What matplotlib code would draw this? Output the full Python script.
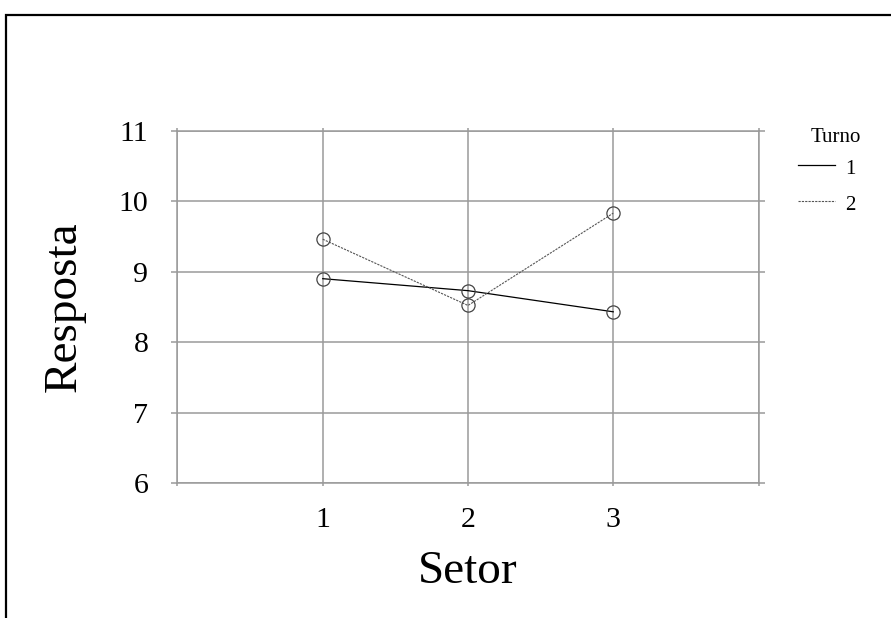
import matplotlib.pyplot as plt
from matplotlib.patches import Rectangle
from matplotlib.lines import Line2D

# --- datos ---
setor = [1, 2, 3]
turno1 = [8.90, 8.73, 8.43]
turno2 = [9.46, 8.52, 9.83]
rotulos_turno = ["1", "2"]

plt.rcParams['font.family'] = ['Liberation Serif', 'DejaVu Serif']

fig = plt.figure(figsize=(8.91, 6.18), dpi=100)
ax = fig.add_axes([0.1992, 0.2184, 0.6521, 0.5701])

cinza = '#9a9a9a'
estilos = [dict(color='black', lw=0.9, ls='-'),
           dict(color='#555555', lw=0.8, ls=(0, (2, 1)))]

for ys, est, rot in zip([turno1, turno2], estilos, rotulos_turno):
    ax.plot(setor, ys, marker='o', ms=9.5, mfc='none', mec='#444444',
            mew=0.9, label=rot, **est)

ax.set_xlim(0, 4)
ax.set_ylim(6, 11)
ax.set_xticks([0, 1, 2, 3, 4])
ax.set_xticklabels(['', '1', '2', '3', ''])
ax.set_yticks([6, 7, 8, 9, 10, 11])

ax.grid(True, color=cinza, lw=1.1)
ax.set_axisbelow(True)
for s in ax.spines.values():
    s.set_color(cinza)
    s.set_linewidth(1.1)

ax.tick_params(axis='y', which='both', left=True, right=True, length=4.5,
               width=1.1, color=cinza, labelsize=21.5, pad=16.5)
ax.tick_params(axis='x', which='both', bottom=True, top=True, length=2.5,
               width=1.1, color=cinza, labelsize=21.5, pad=14.5)

ax.set_xlabel('Setor', fontsize=34, labelpad=13)
ax.set_ylabel('Resposta', fontsize=34, labelpad=24)

# legenda (posicionada a mao, como no original)
W, H = 891, 618
fig.text(836 / W, 1 - 137 / H, 'Turno', ha='center', va='center', fontsize=15)
for i, (est, rot) in enumerate(zip(estilos, rotulos_turno)):
    yl = 165 + 36 * i
    fig.add_artist(Line2D([798 / W, 835 / W], [1 - yl / H, 1 - yl / H],
                          transform=fig.transFigure, **est))
    fig.text(845 / W, 1 - (yl + 5) / H, rot, ha='left', va='center', fontsize=15)

# moldura
fig.add_artist(Rectangle((0.0062, -0.1), 1.2, 1.0757, transform=fig.transFigure,
                         fill=False, edgecolor='black', lw=1.6))

fig.savefig('out.png', dpi=100)
